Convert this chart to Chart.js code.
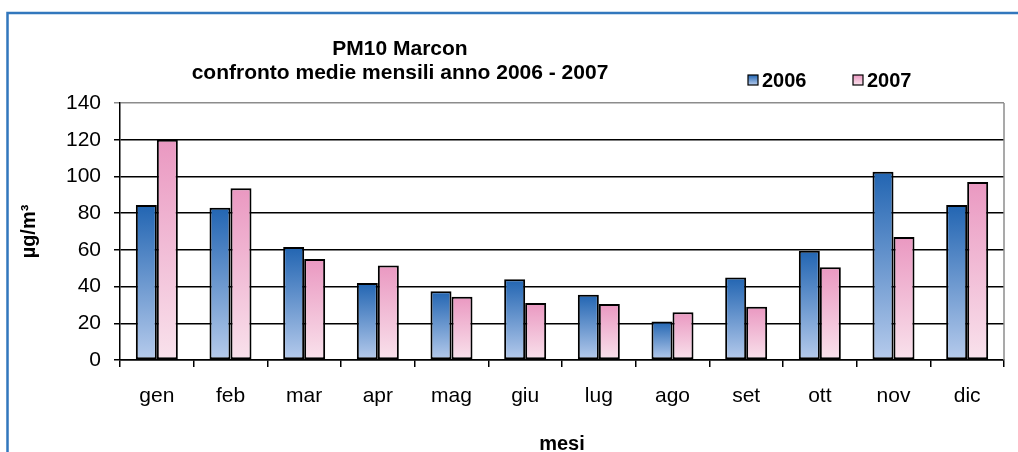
<!DOCTYPE html>
<html>
<head>
<meta charset="utf-8">
<script src="https://cdn.jsdelivr.net/npm/chart.js@4/dist/chart.umd.min.js"></script>
<style>
  html, body { margin: 0; padding: 0; background: #fff; }
  #wrap { position: relative; width: 1018px; height: 452px; }
</style>
</head>
<body>
<div id="wrap"><canvas id="chart" width="1018" height="452"></canvas></div>
<script>
// monthly means PM10 Marcon
var months = ["gen", "feb", "mar", "apr", "mag", "giu", "lug", "ago", "set", "ott", "nov", "dic"];
var pm2006 = [84.5, 83, 61.5, 42, 37.5, 44, 35.5, 21, 45, 59.5, 102.5, 84.5];
var pm2007 = [120, 93.5, 55, 51.5, 34.5, 31, 30.5, 26, 29, 50.5, 67, 97];
var yTicks = [0, 20, 40, 60, 80, 100, 120, 140];

var titleLines = ["PM10 Marcon", "confronto medie mensili anno 2006 - 2007"];
var FONT = "'Liberation Sans', Arial, sans-serif";

var blueTop = "#2265b2", blueBottom = "#b6cbec";
var pinkTop = "#ea98c1", pinkBottom = "#f9e2ec";

/* vertical gradient for each bar, from its top down to zero */
function barGradient(top, bottom) {
    return function (c) {
        var chart = c.chart;
        var y = chart.scales && chart.scales.y;
        if (!y || c.raw === undefined) return top;
        var y0 = y.getPixelForValue(0);
        var y1 = y.getPixelForValue(c.raw);
        if (!isFinite(y0) || !isFinite(y1) || y0 === y1) return top;
        var g = chart.ctx.createLinearGradient(0, y1, 0, y0);
        g.addColorStop(0, top);
        g.addColorStop(1, bottom);
        return g;
    };
}

/* frame, title, legend and grey plot border */
var decor = {
    id: "decor",
    afterDraw: function (chart) {
        var ctx = chart.ctx, a = chart.chartArea;
        ctx.save();
        // grey right border of plot area
        ctx.strokeStyle = "#8c8c8c";
        ctx.lineWidth = 1.5;
        ctx.beginPath();
        ctx.moveTo(a.right, a.top);
        ctx.lineTo(a.right, a.bottom);
        ctx.stroke();
        // blue frame, cut at right and bottom
        ctx.strokeStyle = "#3277bd";
        ctx.lineWidth = 2.5;
        ctx.beginPath();
        ctx.moveTo(1018, 13);
        ctx.lineTo(7.5, 13);
        ctx.lineTo(7.5, 452);
        ctx.stroke();
        // title
        ctx.fillStyle = "#000";
        ctx.font = "bold 21px " + FONT;
        ctx.textAlign = "center";
        ctx.textBaseline = "middle";
        ctx.fillText(titleLines[0], 400, 49);
        ctx.fillText(titleLines[1], 400, 73);
        // legend
        var items = [
            { label: "2006", x: 748, top: blueTop, bottom: blueBottom },
            { label: "2007", x: 853, top: pinkTop, bottom: pinkBottom }
        ];
        ctx.font = "bold 20px " + FONT;
        items.forEach(function (it) {
            var g = ctx.createLinearGradient(0, 75, 0, 85);
            g.addColorStop(0, it.top);
            g.addColorStop(1, it.bottom);
            ctx.fillStyle = g;
            ctx.fillRect(it.x, 75, 10, 10);
            ctx.strokeStyle = "#000";
            ctx.lineWidth = 1.2;
            ctx.strokeRect(it.x, 75, 10, 10);
            ctx.fillStyle = "#000";
            ctx.textAlign = "left";
            ctx.fillText(it.label, it.x + 14, 81);
        });
        ctx.restore();
    }
};

new Chart(document.getElementById("chart"), {
    type: "bar",
    data: {
        labels: months,
        datasets: [
            {
                label: "2006",
                data: pm2006,
                backgroundColor: barGradient(blueTop, blueBottom),
                borderColor: "#000",
                borderWidth: 2,
                borderSkipped: false
            },
            {
                label: "2007",
                data: pm2007,
                backgroundColor: barGradient(pinkTop, pinkBottom),
                borderColor: "#000",
                borderWidth: 2,
                borderSkipped: false
            }
        ]
    },
    options: {
        responsive: false,
        animation: false,
        layout: { padding: { left: 0, right: 14, top: 103, bottom: 0 } },
        datasets: { bar: { barPercentage: 1, categoryPercentage: 0.57 } },
        plugins: {
            legend: { display: false },
            title: { display: false },
            tooltip: { enabled: false }
        },
        scales: {
            x: {
                grid: {
                    offset: true,
                    drawOnChartArea: false,
                    color: "#000",
                    lineWidth: 1.5,
                    tickLength: 7
                },
                border: { color: "#000", width: 1.5 },
                ticks: { color: "#000", font: { family: FONT, size: 21 }, padding: 17 },
                title: {
                    display: true,
                    text: "mesi",
                    color: "#000",
                    font: { family: FONT, size: 20, weight: "bold" },
                    padding: { top: 0, bottom: -4 }
                },
                afterFit: function (s) { s.height = 92; }
            },
            y: {
                min: 0,
                max: 140,
                afterBuildTicks: function (s) {
                    s.ticks = yTicks.map(function (v) { return { value: v }; });
                },
                grid: {
                    color: function (c) { return c.tick && c.tick.value === 140 ? "#8c8c8c" : "#000"; },
                    lineWidth: 1.5,
                    tickLength: 6
                },
                border: { color: "#000", width: 1.5 },
                ticks: { color: "#000", font: { family: FONT, size: 21 }, padding: 13 },
                title: {
                    display: true,
                    text: "µg/m³",
                    color: "#000",
                    font: { family: FONT, size: 20, weight: "bold" },
                    padding: { top: 17, bottom: 0 }
                },
                afterFit: function (s) { s.width = 120; }
            }
        }
    },
    plugins: [decor]
});
</script>
</body>
</html>
